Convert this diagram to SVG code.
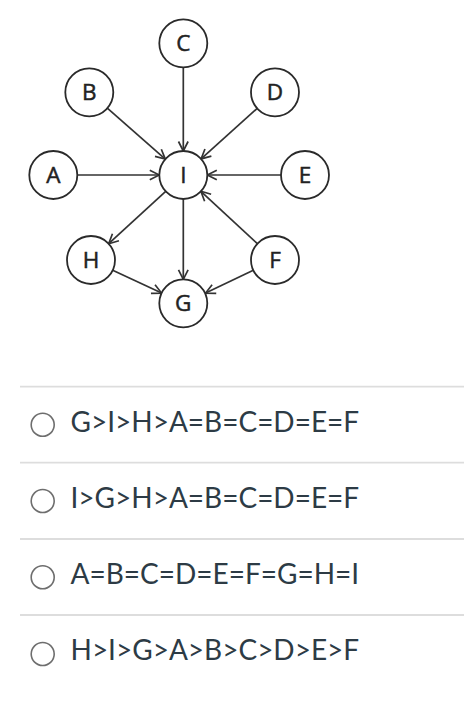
<svg xmlns="http://www.w3.org/2000/svg" width="464" height="710" viewBox="0 0 464 710">
<defs>
<style>
.node circle{fill:#fff;stroke:#2a2a2a;stroke-width:1.8}
.node text{font-family:"Open Sans","DejaVu Sans",sans-serif;font-size:22.5px;fill:#222;stroke:#222;stroke-width:0.5;text-anchor:middle}
.edge{stroke:#333;stroke-width:1.7;fill:none;marker-end:url(#arr)}
.sep{stroke:#dddddd;stroke-width:1.8}
.radio{fill:#fff;stroke:#6e6e6e;stroke-width:1.6}
.opt{font-family:Lato,"Liberation Sans",sans-serif;font-size:28px;fill:#2d3b45}
</style>
<marker id="arr" markerUnits="userSpaceOnUse" markerWidth="14" markerHeight="14" viewBox="-12 -7 14 14" refX="0" refY="0" orient="auto">
<path d="M-9.5,-4.8 L0,0 L-9.5,4.8" fill="none" stroke="#333" stroke-width="1.7"/>
</marker>
</defs>
<rect width="464" height="710" fill="#fff"/>
<g id="connectors">
<line class="edge" x1="77.3" y1="175" x2="159.3" y2="175"/>
<line class="edge" x1="107.3" y1="108.2" x2="165.3" y2="159.1"/>
<line class="edge" x1="183.3" y1="67.3" x2="183.3" y2="151"/>
<line class="edge" x1="257.2" y1="108.4" x2="201.1" y2="158.9"/>
<line class="edge" x1="281" y1="175" x2="207.3" y2="175"/>
<line class="edge" x1="257.4" y1="243.7" x2="200.9" y2="191.3"/>
<line class="edge" x1="165.7" y1="191.3" x2="108.7" y2="243.7"/>
<line class="edge" x1="183.3" y1="199" x2="183.3" y2="279.3"/>
<line class="edge" x1="112.7" y1="270.2" x2="161.6" y2="293.1"/>
<line class="edge" x1="253.3" y1="270.2" x2="205.6" y2="293.1"/>
</g>
<g id="node-A" class="node"><circle cx="53.3" cy="175" r="24"/><text x="53.3" y="183">A</text></g>
<g id="node-B" class="node"><circle cx="89.3" cy="92.3" r="24"/><text x="89.3" y="100.3">B</text></g>
<g id="node-C" class="node"><circle cx="183.3" cy="43.3" r="24"/><text x="183.3" y="51.3">C</text></g>
<g id="node-D" class="node"><circle cx="275" cy="92.3" r="24"/><text x="275" y="100.3">D</text></g>
<g id="node-E" class="node"><circle cx="305" cy="175" r="24"/><text x="305" y="183">E</text></g>
<g id="node-F" class="node"><circle cx="275" cy="260" r="24"/><text x="275" y="268">F</text></g>
<g id="node-G" class="node"><circle cx="183.3" cy="303.3" r="24"/><text x="183.3" y="311.3">G</text></g>
<g id="node-H" class="node"><circle cx="91" cy="260" r="24"/><text x="91" y="268">H</text></g>
<g id="node-I" class="node"><circle cx="183.3" cy="175" r="24"/><text x="183.3" y="183">I</text></g>
<g id="options">
<line class="sep" x1="20" y1="386.7" x2="464" y2="386.7"/>
<line class="sep" x1="20" y1="462.7" x2="464" y2="462.7"/>
<line class="sep" x1="20" y1="539" x2="464" y2="539"/>
<line class="sep" x1="20" y1="615" x2="464" y2="615"/>
<circle class="radio" cx="42.7" cy="424.8" r="11.5"/>
<circle class="radio" cx="42.7" cy="501" r="11.5"/>
<circle class="radio" cx="42.7" cy="577.3" r="11.5"/>
<circle class="radio" cx="42.7" cy="654" r="11.5"/>
<text class="opt" x="70.5" y="432.3">G&gt;I&gt;H&gt;A=B=C=D=E=F</text>
<text class="opt" x="70.5" y="508.3">I&gt;G&gt;H&gt;A=B=C=D=E=F</text>
<text class="opt" x="70.5" y="584.3">A=B=C=D=E=F=G=H=I</text>
<text class="opt" x="70.5" y="660.3">H&gt;I&gt;G&gt;A&gt;B&gt;C&gt;D&gt;E&gt;F</text>
</g>
</svg>
